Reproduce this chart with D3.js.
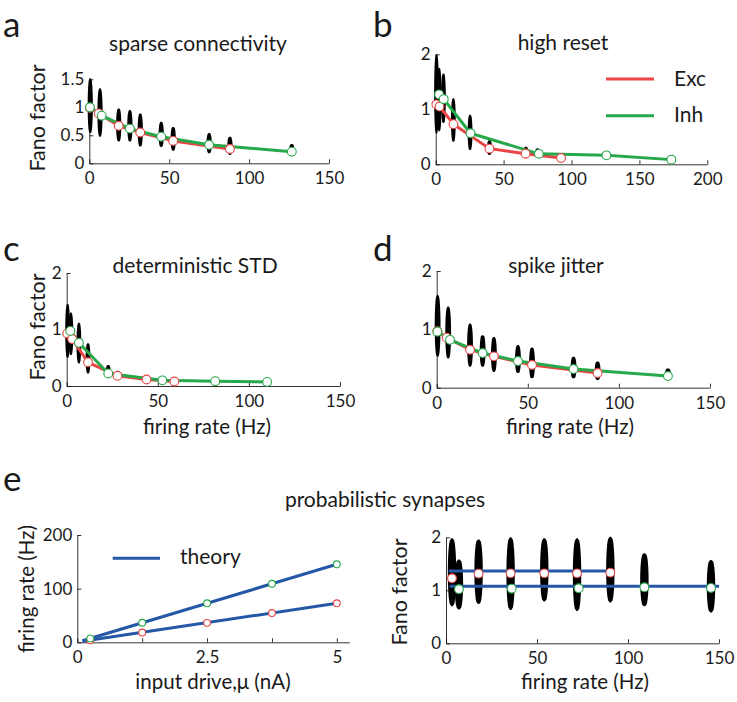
<!DOCTYPE html>
<html><head><meta charset="utf-8">
<script src="https://cdn.jsdelivr.net/npm/d3@7"></script>
<style>
body{margin:0;background:#fff}
text{font-family:Lato,"Open Sans",sans-serif;fill:#1a1a1a}
</style>
</head><body>
<svg id="fig" width="737" height="702"></svg>
<script>
// ---------- Panel a: sparse connectivity ----------
const aExcRate = [0.3, 5.9, 18.4, 31.9, 52.5, 88];
const aExcFano = [0.99, 0.89, 0.67, 0.55, 0.40, 0.255];
const aInhRate = [0.4, 7.75, 25.4, 45, 75, 126.7];
const aInhFano = [1.0, 0.85, 0.62, 0.475, 0.33, 0.207];
const aCloudRate = [0.6, 6.7, 18.4, 25.4, 31.9, 45, 52.5, 75, 88, 126.7];
const aCloudLow  = [0.54, 0.475, 0.39, 0.39, 0.30, 0.29, 0.225, 0.18, 0.15, 0.13];
const aCloudHigh = [1.52, 1.34, 0.98, 0.95, 0.89, 0.74, 0.65, 0.54, 0.475, 0.345];
const aXTicks = [0, 50, 100, 150];
const aYTicks = [0, 0.5, 1, 1.5];

// ---------- Panel b: high reset ----------
const bExcRate = [0.5, 2.8, 13.1, 39.6, 66.2, 92.3];
const bExcFano = [1.09, 1.05, 0.73, 0.285, 0.193, 0.115];
const bInhRate = [2.5, 5.9, 25.6, 76, 125.7, 173.5];
const bInhFano = [1.27, 1.185, 0.565, 0.19, 0.163, 0.085];
const bCloudRate = [0.6, 2.6, 5.7, 13, 25.3, 39.6, 66.4, 75, 125.7];
const bCloudLow  = [0.56, 0.60, 0.75, 0.41, 0.26, 0.17, 0.11, 0.14, 0.12];
const bCloudHigh = [2.0, 1.75, 1.65, 1.2, 0.9, 0.44, 0.32, 0.29, 0.2];
const bXTicks = [0, 50, 100, 150, 200];
const bYTicks = [0, 1, 2];

// ---------- Panel c: deterministic STD ----------
const cExcRate = [0.3, 3.0, 11.7, 27.9, 43.8, 59.1];
const cExcFano = [0.93, 0.83, 0.42, 0.18, 0.115, 0.08];
const cInhRate = [2.0, 6.7, 22.8, 52.5, 81.5, 110];
const cInhFano = [0.975, 0.765, 0.222, 0.10, 0.085, 0.073];
const cCloudRate = [0.5, 2.3, 6.7, 11.7, 22.8, 27.9, 43.8];
const cCloudLow  = [0.5, 0.55, 0.40, 0.22, 0.165, 0.13, 0.08];
const cCloudHigh = [1.45, 1.3, 1.12, 0.755, 0.37, 0.27, 0.16];
const cXTicks = [0, 50, 100, 150];
const cYTicks = [0, 1, 2];

// ---------- Panel d: spike jitter ----------
const dExcRate = [0.37, 5.5, 18.3, 31.4, 52.3, 88.3];
const dExcFano = [0.97, 0.857, 0.65, 0.537, 0.389, 0.251];
const dInhRate = [0.37, 7.3, 25.2, 44.6, 75.1, 126.9];
const dInhFano = [0.96, 0.82, 0.594, 0.457, 0.32, 0.2];
const dCloudRate = [0.5, 6.3, 18.3, 25.2, 31.4, 44.6, 52.3, 75.1, 88.3, 126.9];
const dCloudLow  = [0.53, 0.50, 0.36, 0.36, 0.27, 0.25, 0.16, 0.16, 0.13, 0.13];
const dCloudHigh = [1.59, 1.39, 1.10, 0.90, 0.87, 0.73, 0.69, 0.53, 0.45, 0.33];
const dXTicks = [0, 50, 100, 150];
const dYTicks = [0, 1, 2];

// ---------- Panel e (left): rate vs input drive ----------
const eDrive = [0.25, 1.25, 2.5, 3.75, 5];
const eExcRate = [3.6, 18.2, 36.3, 54.5, 72.7];
const eInhRate = [7.3, 36.4, 72.7, 109, 145.4];
const eTheoryDrive = [0.1, 5];
const eTheoryExc = [2, 72.7];
const eTheoryInh = [3, 145.4];
const eLXTicks = [0, 1.25, 2.5, 3.75, 5];
const eLXLabels = ["0", "", "2.5", "", "5"];
const eLYTicks = [0, 100, 200];

// ---------- Panel e (right): Fano vs rate ----------
const eExcFRate = [3.3, 17.9, 35.5, 54, 72, 90.3];
const eExcFano = [1.226, 1.314, 1.32, 1.32, 1.32, 1.333];
const eInhFRate = [7.1, 36.1, 72.9, 109, 145.6];
const eInhFano = [1.02, 1.03, 1.038, 1.057, 1.044];
const eTheoryExcRate = [1.5, 90];
const eTheoryExcFano = [1.365, 1.365];
const eTheoryInhRate = [2, 150];
const eTheoryInhFano = [1.075, 1.075];
const eCloudRate = [3.3, 7.1, 17.9, 35.5, 54, 72, 90.3, 109, 145.6];
const eCloudLow  = [0.70, 0.64, 0.74, 0.63, 0.79, 0.61, 0.77, 0.70, 0.58];
const eCloudHigh = [1.98, 1.58, 1.96, 2.0, 1.98, 1.98, 2.01, 1.70, 1.57];
const eRXTicks = [0, 50, 100, 150];
const eRYTicks = [0, 1, 2];

// ---------- styling ----------
const RED = "#ea4446", GREEN = "#27a84a", BLUE = "#2457a6";
const svg = d3.select("#fig");
const TICKFS = 17;

function makePanel(o) {
  const x = d3.scaleLinear().domain(o.xDomain).range([o.x0, o.x1]);
  const y = d3.scaleLinear().domain(o.yDomain).range([o.y0, o.yTop]);
  const g = svg.append("g");

  // clouds of individual-neuron Fano factors
  if (o.clouds) {
    const c = o.clouds;
    const n = 30;
    c.rate.forEach((r, i) => {
      const cx = x(r), lo = c.low[i], hi = c.high[i];
      const left = [], right = [];
      for (let k = 0; k <= n; k++) {
        const t = k / n;
        const v = lo + (hi - lo) * t;
        const w = Math.max(0.7, o.cloudW * Math.pow(Math.sin(Math.PI * t), 0.28));
        left.push([cx - w, y(v)]);
        right.push([cx + w, y(v)]);
      }
      const pts = left.concat(right.reverse());
      g.append("path").attr("d", d3.line().curve(d3.curveLinearClosed)(pts)).attr("fill", "#000");
    });
  }

  // axes (MATLAB style, inward ticks)
  const xa = d3.axisBottom(x).tickValues(o.xTicks).tickSizeInner(-4).tickSizeOuter(0).tickPadding(9)
    .tickFormat((d, i) => o.xLabels ? o.xLabels[i] : d3.format("")(d));
  const ya = d3.axisLeft(y).tickValues(o.yTicks).tickSizeInner(-4).tickSizeOuter(0).tickPadding(5)
    .tickFormat(d => d3.format("")(d));
  const gx = g.append("g").attr("transform", `translate(0,${o.y0})`).call(xa);
  const gy = g.append("g").attr("transform", `translate(${o.x0},0)`).call(ya);
  [gx, gy].forEach(a => {
    a.select(".domain").attr("stroke", "#000").attr("stroke-width", 0.8);
    a.selectAll(".tick line").attr("stroke", "#000").attr("stroke-width", 0.8);
    a.selectAll("text").attr("font-size", TICKFS).attr("font-family", "Lato,'Open Sans',sans-serif").attr("fill", "#1a1a1a");
  });

  // lines & markers
  const line = d3.line().x(d => x(d[0])).y(d => y(d[1]));
  (o.lines || []).forEach(L => {
    g.append("path").attr("d", line(L.xs.map((v, i) => [v, L.ys[i]])))
      .attr("fill", "none").attr("stroke", L.color).attr("stroke-width", L.w || 3)
      .attr("stroke-linejoin", "round");
  });
  (o.markers || []).forEach(M => {
    M.xs.forEach((v, i) => {
      g.append("circle").attr("cx", x(v)).attr("cy", y(M.ys[i])).attr("r", M.r || 4.4)
        .attr("fill", "#fff").attr("stroke", M.color).attr("stroke-width", 1.1);
    });
  });
  return { x, y, g };
}

function label(txt, x, y, fs, anchor, rot) {
  const t = svg.append("text").attr("x", x).attr("y", y).attr("font-size", fs)
    .attr("text-anchor", anchor || "middle").text(txt);
  if (rot) t.attr("transform", `rotate(-90,${x},${y})`);
  return t;
}

// Panel a
makePanel({
  xDomain: [0, 150], yDomain: [0, 1.5], x0: 89.3, x1: 329, y0: 163.3, yTop: 79.3,
  xTicks: aXTicks, yTicks: aYTicks, cloudW: 2.6,
  clouds: { rate: aCloudRate, low: aCloudLow, high: aCloudHigh },
  lines: [{ xs: aExcRate, ys: aExcFano, color: RED }, { xs: aInhRate, ys: aInhFano, color: GREEN }],
  markers: [{ xs: aExcRate, ys: aExcFano, color: RED }, { xs: aInhRate, ys: aInhFano, color: GREEN }]
});
// Panel b
makePanel({
  xDomain: [0, 200], yDomain: [0, 2], x0: 435.7, x1: 707.3, y0: 164.3, yTop: 54.3,
  xTicks: bXTicks, yTicks: bYTicks, cloudW: 2.4,
  clouds: { rate: bCloudRate, low: bCloudLow, high: bCloudHigh },
  lines: [{ xs: bExcRate, ys: bExcFano, color: RED }, { xs: bInhRate, ys: bInhFano, color: GREEN }],
  markers: [{ xs: bExcRate, ys: bExcFano, color: RED }, { xs: bInhRate, ys: bInhFano, color: GREEN }]
});
// Panel c
makePanel({
  xDomain: [0, 150], yDomain: [0, 2], x0: 66.7, x1: 340, y0: 386, yTop: 273,
  xTicks: cXTicks, yTicks: cYTicks, cloudW: 2.4,
  clouds: { rate: cCloudRate, low: cCloudLow, high: cCloudHigh },
  lines: [{ xs: cExcRate, ys: cExcFano, color: RED }, { xs: cInhRate, ys: cInhFano, color: GREEN }],
  markers: [{ xs: cExcRate, ys: cExcFano, color: RED }, { xs: cInhRate, ys: cInhFano, color: GREEN }]
});
// Panel d
makePanel({
  xDomain: [0, 150], yDomain: [0, 2], x0: 436.7, x1: 710, y0: 387.7, yTop: 271,
  xTicks: dXTicks, yTicks: dYTicks, cloudW: 2.9,
  clouds: { rate: dCloudRate, low: dCloudLow, high: dCloudHigh },
  lines: [{ xs: dExcRate, ys: dExcFano, color: RED }, { xs: dInhRate, ys: dInhFano, color: GREEN }],
  markers: [{ xs: dExcRate, ys: dExcFano, color: RED }, { xs: dInhRate, ys: dInhFano, color: GREEN }]
});
// Panel e left
makePanel({
  xDomain: [0, 5.24], yDomain: [0, 200], x0: 77.3, x1: 349.3, y0: 642.3, yTop: 535,
  xTicks: eLXTicks, xLabels: eLXLabels, yTicks: eLYTicks,
  lines: [{ xs: eTheoryDrive, ys: eTheoryExc, color: BLUE }, { xs: eTheoryDrive, ys: eTheoryInh, color: BLUE }],
  markers: [{ xs: eDrive, ys: eExcRate, color: RED, r: 3.4 }, { xs: eDrive, ys: eInhRate, color: GREEN, r: 3.4 }]
});
// Panel e right
makePanel({
  xDomain: [0, 150], yDomain: [0, 2], x0: 446, x1: 719, y0: 643.3, yTop: 537.3,
  xTicks: eRXTicks, yTicks: eRYTicks, cloudW: 4.2,
  clouds: { rate: eCloudRate, low: eCloudLow, high: eCloudHigh },
  lines: [{ xs: eTheoryExcRate, ys: eTheoryExcFano, color: BLUE }, { xs: eTheoryInhRate, ys: eTheoryInhFano, color: BLUE }],
  markers: [{ xs: eExcFRate, ys: eExcFano, color: RED }, { xs: eInhFRate, ys: eInhFano, color: GREEN }]
});

// Panel letters
[["a", 3, 36.5], ["b", 373, 36.5], ["c", 3, 261], ["d", 373, 261], ["e", 3, 491]].forEach(p =>
  label(p[0], p[1], p[2], 35, "start"));

// Titles
label("sparse connectivity", 198, 51, 21);
label("high reset", 563, 50, 21);
label("deterministic STD", 195, 273, 21);
label("spike jitter", 556, 273, 21);
label("probabilistic synapses", 385, 507, 21);

// Axis titles
label("Fano factor", 45, 118, 21.5, "middle", true);
label("Fano factor", 45, 327, 21.5, "middle", true);
label("firing rate (Hz)", 34, 589, 20.5, "middle", true);
label("Fano factor", 407, 592, 21.5, "middle", true);
label("firing rate (Hz)", 207, 434, 20.5);
label("firing rate (Hz)", 570, 434, 20.5);
label("input drive,\u03bc (nA)", 213, 689, 20.5);
label("firing rate (Hz)", 585, 689, 20.5);

// Legends
svg.append("line").attr("x1", 606).attr("x2", 654).attr("y1", 79).attr("y2", 79).attr("stroke", RED).attr("stroke-width", 3);
svg.append("line").attr("x1", 606).attr("x2", 654).attr("y1", 115.7).attr("y2", 115.7).attr("stroke", GREEN).attr("stroke-width", 3);
label("Exc", 674, 86, 21, "start");
label("Inh", 674, 122, 21, "start");
svg.append("line").attr("x1", 112.7).attr("x2", 160).attr("y1", 558.3).attr("y2", 558.3).attr("stroke", BLUE).attr("stroke-width", 3);
label("theory", 180, 564, 21, "start");
</script>
</body></html>
